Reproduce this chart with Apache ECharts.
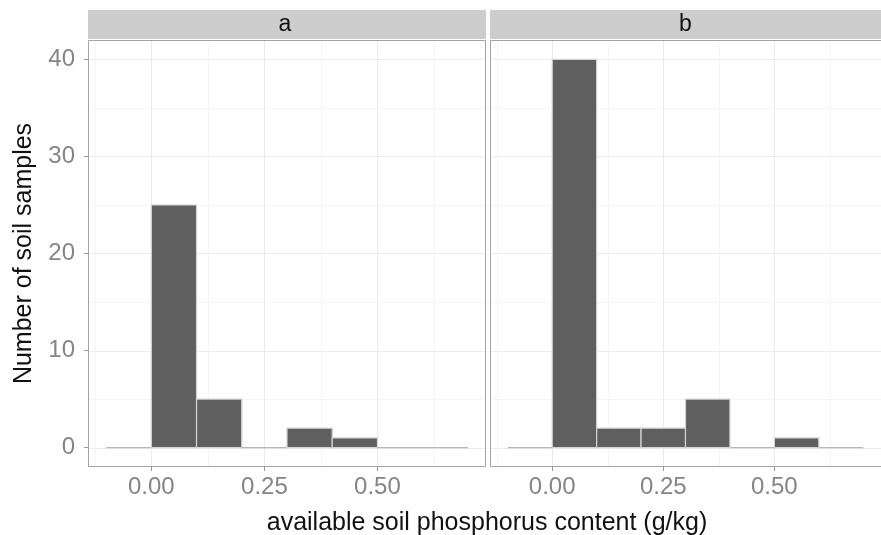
<!DOCTYPE html>
<html>
<head>
<meta charset="utf-8">
<script src="https://cdn.jsdelivr.net/npm/echarts@6/dist/echarts.min.js"></script>
<style>
html,body{margin:0;padding:0;background:#fff;}
#chart{width:881px;height:535px;}
</style>
</head>
<body>
<div id="chart"></div>
<script>
// ---- data ----
const binEdges = [-0.1, 0.0, 0.1, 0.2, 0.3, 0.4, 0.5, 0.6, 0.7];
const countsA = [0, 25, 5, 0, 2, 1, 0, 0];
const countsB = [0, 40, 2, 2, 5, 0, 1, 0];
const panelLabels = ['a', 'b'];
const xTickValues = [0, 0.25, 0.5];
const xMinorValues = [-0.125, 0.125, 0.375, 0.625];
const yTickValues = [0, 10, 20, 30, 40];
const yMinorValues = [5, 15, 25, 35];
const xTitle = 'available soil phosphorus content (g/kg)';
const yTitle = 'Number of soil samples';

function binData(counts) {
  return counts.map((c, i) => [binEdges[i], binEdges[i + 1], c]);
}
// gridline data: [orientation (0 = horizontal, 1 = vertical), value, major flag]
function gridLineData() {
  const d = [];
  yMinorValues.forEach(v => d.push([0, v, 0]));
  xMinorValues.forEach(v => d.push([1, v, 0]));
  yTickValues.forEach(v => d.push([0, v, 1]));
  xTickValues.forEach(v => d.push([1, v, 1]));
  return d;
}

const FONT = '"Liberation Sans", Arial, sans-serif';
const chart = echarts.init(document.getElementById('chart'), null, {renderer: 'canvas'});

function renderBin(params, api) {
  const x0 = api.value(0), x1 = api.value(1), c = api.value(2);
  const p0 = api.coord([x0, c]);
  const p1 = api.coord([x1, 0]);
  return {
    type: 'rect',
    shape: {x: p0[0], y: p0[1], width: p1[0] - p0[0], height: p1[1] - p0[1]},
    style: {
      fill: c > 0 ? '#5f5f5f' : null,
      stroke: c > 0 ? '#d4d4d4' : '#b8b8b8',
      lineWidth: 1.2
    }
  };
}

function renderGridLine(params, api) {
  const cs = params.coordSys;
  const orient = api.value(0), v = api.value(1), major = api.value(2);
  let shape;
  if (orient === 0) {
    const y = Math.round(api.coord([0, v])[1]) + 0.5;
    shape = {x1: cs.x, y1: y, x2: cs.x + cs.width, y2: y};
  } else {
    const x = Math.round(api.coord([v, 0])[0]) + 0.5;
    shape = {x1: x, y1: cs.y, x2: x, y2: cs.y + cs.height};
  }
  return {type: 'line', shape: shape, style: {stroke: major ? '#ebebeb' : '#f5f5f5', lineWidth: 1}};
}

const grids = [
  {left: 88, top: 40, width: 398, height: 427},
  {left: 490, top: 40, width: 399, height: 427}
];

function xAxisDef(i) {
  return {
    type: 'value', gridIndex: i, min: -0.14, max: 0.74,
    axisLine: {show: false, onZero: false},
    axisTick: {show: true, length: 4, lineStyle: {color: '#999', width: 1}, customValues: xTickValues},
    axisLabel: {show: true, color: '#858585', fontSize: 24, fontFamily: FONT, margin: 8,
      customValues: xTickValues, formatter: v => v.toFixed(2)},
    splitLine: {show: false}
  };
}
function yAxisDef(i) {
  return {
    type: 'value', gridIndex: i, min: -2, max: 42,
    axisLine: {show: false, onZero: false},
    axisTick: {show: i === 0, length: 4, lineStyle: {color: '#999', width: 1}, customValues: yTickValues},
    axisLabel: {show: i === 0, color: '#858585', fontSize: 24, fontFamily: FONT, margin: 13,
      customValues: yTickValues},
    splitLine: {show: false},
    name: i === 0 ? yTitle : '',
    nameLocation: 'middle', nameRotate: 90, nameGap: 51,
    nameTextStyle: {color: '#111', fontSize: 25, fontFamily: FONT}
  };
}

const graphics = [];
grids.forEach((g, i) => {
  graphics.push({type: 'rect', shape: {x: g.left + 0.5, y: g.top + 0.5, width: g.width - 1, height: g.height - 1},
    style: {fill: null, stroke: '#a3a3a3', lineWidth: 1}, z: 100, silent: true});
  graphics.push({type: 'rect', shape: {x: g.left, y: 10, width: g.width, height: 29},
    style: {fill: '#cdcdcd'}, z: 100, silent: true});
  graphics.push({type: 'text', x: g.left + g.width / 2 - (i === 1 ? 4 : 2), y: 24.5,
    style: {text: panelLabels[i], fill: '#111', font: '23px ' + FONT, textAlign: 'center', textVerticalAlign: 'middle'},
    z: 101, silent: true});
});
graphics.push({type: 'text', x: 487, y: 523,
  style: {text: xTitle, fill: '#111', font: '25px ' + FONT, textAlign: 'center', textVerticalAlign: 'middle'},
  z: 101, silent: true});

const option = {
  animation: false,
  backgroundColor: '#fff',
  grid: grids,
  xAxis: [xAxisDef(0), xAxisDef(1)],
  yAxis: [yAxisDef(0), yAxisDef(1)],
  series: [
    {type: 'custom', xAxisIndex: 0, yAxisIndex: 0, renderItem: renderGridLine, data: gridLineData(), z: 1, silent: true},
    {type: 'custom', xAxisIndex: 1, yAxisIndex: 1, renderItem: renderGridLine, data: gridLineData(), z: 1, silent: true},
    {type: 'custom', xAxisIndex: 0, yAxisIndex: 0, renderItem: renderBin, data: binData(countsA), clip: false, z: 5},
    {type: 'custom', xAxisIndex: 1, yAxisIndex: 1, renderItem: renderBin, data: binData(countsB), clip: false, z: 5}
  ],
  graphic: graphics
};
chart.setOption(option);
</script>
</body>
</html>
